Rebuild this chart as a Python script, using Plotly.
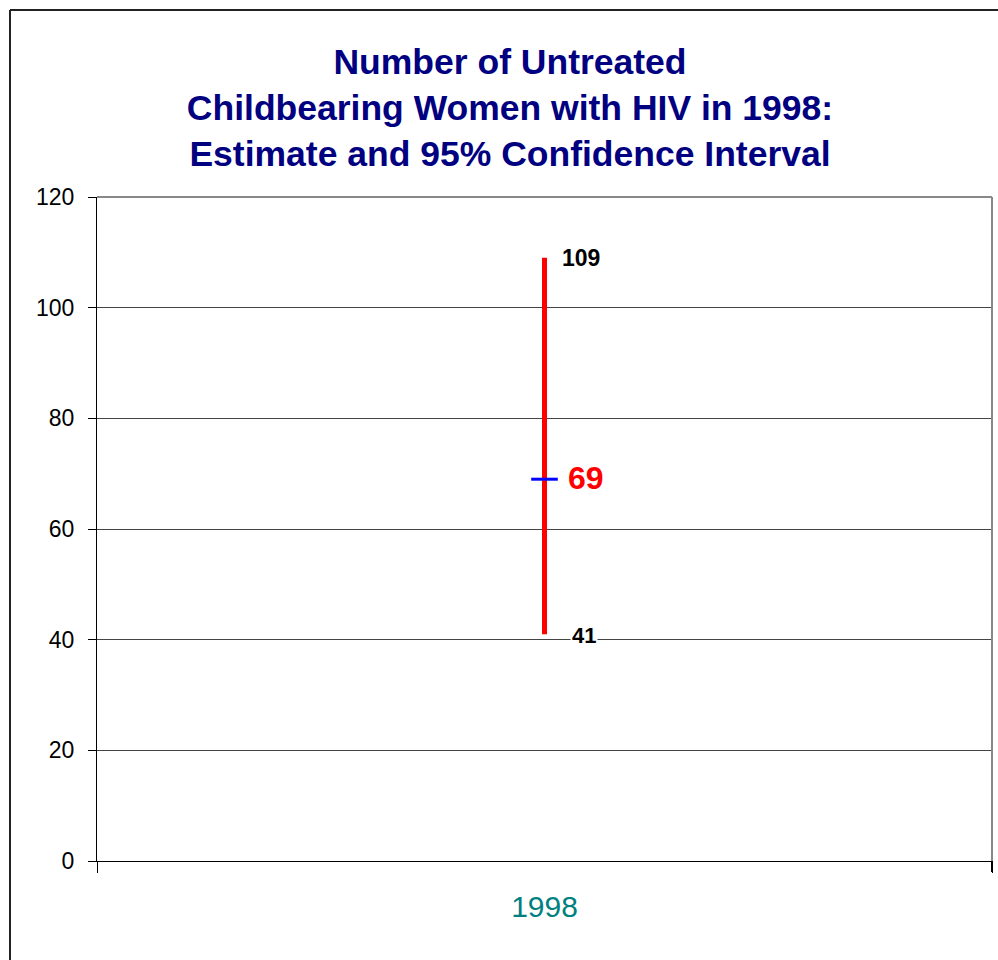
import plotly.graph_objects as go

# data
years = ["1998"]
estimate = [69]
lower = [41]
upper = [109]

W, H = 998, 960
L, R, T, B = 97, 6, 197, 99
pw, ph = W - L - R, H - T - B


def px_x(p):
    return (p - L) / pw


def px_y(p):
    return (H - B - p) / ph


fig = go.Figure()

fig.add_trace(go.Scatter(
    x=years, y=estimate,
    mode="markers",
    marker=dict(symbol="line-ew", size=19, line=dict(color="#0000FF", width=3)),
    error_y=dict(
        type="data", symmetric=False,
        array=[u - e for u, e in zip(upper, estimate)],
        arrayminus=[e - l for e, l in zip(estimate, lower)],
        color="#FF0000", thickness=5, width=0,
    ),
    showlegend=False, hoverinfo="skip",
))

# value labels
fig.add_annotation(x=0, y=upper[0], text="<b>%d</b>" % upper[0], showarrow=False,
                   xshift=36, font=dict(family="Arial", size=23, color="black"))
fig.add_annotation(x=0, y=estimate[0], text="<b>%d</b>" % estimate[0], showarrow=False,
                   xshift=41, yshift=1, font=dict(family="Arial", size=32, color="#FF0000"))
fig.add_annotation(x=0, y=lower[0], text="<b>%d</b>" % lower[0], showarrow=False,
                   xshift=39, yshift=-1, bgcolor="white",
                   font=dict(family="Arial", size=22, color="black"))

# outer border, top gridline, right plot border and right boundary tick
fig.add_shape(type="line", xref="paper", yref="paper",
              x0=px_x(10), x1=px_x(10), y0=px_y(10), y1=px_y(970),
              line=dict(color="#222", width=2))
fig.add_shape(type="line", xref="paper", yref="paper",
              x0=px_x(10), x1=px_x(1010), y0=px_y(10), y1=px_y(10),
              line=dict(color="#222", width=2))
fig.add_shape(type="line", xref="paper", yref="paper",
              x0=1, x1=1, y0=0, y1=1, line=dict(color="#888", width=2))
fig.add_shape(type="line", xref="paper", yref="paper",
              x0=0, x1=1, y0=1, y1=1, line=dict(color="#888", width=2))
fig.add_shape(type="line", xref="paper", yref="paper",
              x0=1, x1=1, y0=0, y1=px_y(872), line=dict(color="black", width=2))

fig.update_layout(
    width=W, height=H,
    margin=dict(l=L, r=R, t=T, b=B, pad=0),
    paper_bgcolor="white", plot_bgcolor="white",
    title=dict(
        text="Number of Untreated<br>Childbearing Women with HIV in 1998:<br>Estimate and 95% Confidence Interval",
        x=510 / W, xanchor="center",
        y=1 - 74 / H, yanchor="middle", yref="container",
        font=dict(family="Arial", size=35.5, color="#000080", weight="bold"),
    ),
    xaxis=dict(
        type="category", range=[-0.5, 0.5], tickson="boundaries",
        ticks="outside", ticklen=11,
        tickcolor="black", showline=True, linecolor="black", linewidth=1,
        showgrid=False, tickfont=dict(family="Arial", size=30, color="#008080"),
        ticklabelstandoff=19,
    ),
    yaxis=dict(
        range=[0, 120], dtick=20, ticks="outside", ticklen=8, tickcolor="black",
        showline=True, linecolor="black", linewidth=1,
        showgrid=True, gridcolor="#444", gridwidth=1, zeroline=False,
        tickfont=dict(family="Arial", size=23, color="black"),
        ticklabelstandoff=9,
    ),
)

fig.write_html("out.html", config={"displayModeBar": False},
               post_script="document.body.style.margin='0';")
